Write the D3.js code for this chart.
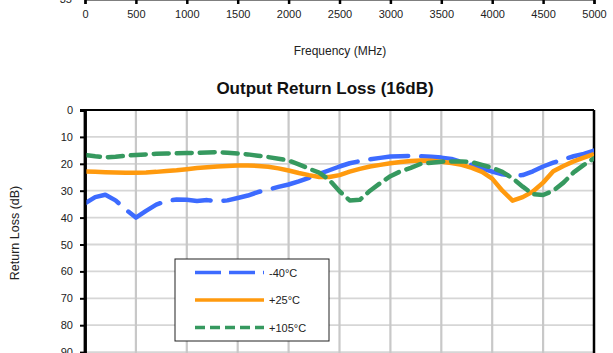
<!DOCTYPE html>
<html>
<head>
<meta charset="utf-8">
<script src="https://cdn.jsdelivr.net/npm/d3@7/dist/d3.min.js"></script>
<style>
  html, body { margin: 0; padding: 0; background: #fff; }
  svg { display: block; font-family: "Liberation Sans", Arial, sans-serif; }
</style>
</head>
<body>
<svg id="chart" width="613" height="353"></svg>
<script>
// Frequency points (MHz)
const freq = [0,100,200,300,400,500,600,700,800,900,1000,1100,1200,1300,1400,1500,1600,1700,1800,1900,
  2000,2100,2200,2300,2400,2500,2600,2700,2800,2900,3000,3100,3200,3300,3400,3500,3600,3700,3800,3900,
  4000,4100,4200,4300,4400,4500,4600,4700,4800,4900,5000];

// Output return loss (dB) per temperature
const rlMinus40 = [34.7,32.4,31.5,33.6,37.0,40.0,37.5,35.2,33.8,33.3,33.4,33.8,33.5,34.0,33.6,32.7,31.8,30.5,29.6,28.6,
  27.7,26.5,25.2,23.8,22.4,21.0,19.8,19.0,18.3,17.8,17.3,17.2,17.1,17.2,17.4,17.7,18.2,19.3,20.4,21.7,
  22.9,23.9,24.5,24.2,22.8,21.0,19.6,18.3,17.2,16.3,15.1];
const rlPlus25 = [22.9,23.0,23.1,23.2,23.3,23.3,23.2,23.0,22.7,22.4,22.0,21.6,21.3,21.0,20.8,20.6,20.6,20.8,21.1,21.7,
  22.5,23.4,24.2,24.9,24.9,24.2,22.9,21.9,21.0,20.4,19.8,19.3,19.0,18.8,18.9,19.2,19.7,20.4,21.5,23.0,
  25.5,30.0,33.7,32.4,30.3,27.0,22.8,20.8,19.1,17.7,16.4];
const rlPlus105 = [16.7,17.2,17.6,17.4,17.0,16.7,16.5,16.3,16.2,16.1,16.0,15.9,15.8,15.7,15.9,16.2,16.5,17.0,17.5,18.1,
  18.8,20.2,21.8,23.3,26.0,30.2,33.6,33.4,30.0,27.2,24.6,22.8,21.5,20.0,19.6,19.2,19.1,19.1,19.4,20.4,
  21.5,23.0,25.4,28.5,31.3,31.6,30.0,27.0,23.2,20.4,18.0];

const seriesNames = ["-40°C", "+25°C", "+105°C"];
const xTicks = [0,500,1000,1500,2000,2500,3000,3500,4000,4500,5000];
const yTicks = [0,10,20,30,40,50,60,70,80,90,100];

const styles = [
  { color: "#3d6bff", width: 4.5, dash: "38,13", legendWidth: 3.3, legendDash: "26,8" },
  { color: "#ff9a0e", width: 4.5, dash: null,    legendWidth: 3.3, legendDash: null },
  { color: "#36995f", width: 4.5, dash: "15,8",  legendWidth: 3.3, legendDash: "10,5" }
];
const seriesData = [rlMinus40, rlPlus25, rlPlus105];

const svg = d3.select("#chart");

const plotLeft = 85, plotRight = 594, plotTop = 110, plotBottom = 379;
const x = d3.scaleLinear().domain([0, 5000]).range([plotLeft, plotRight]);
const y = d3.scaleLinear().domain([0, 100]).range([plotTop, plotBottom]);

// --- tail of the chart above: its frequency axis ---
const upper = svg.append("g");
upper.append("g")
  .attr("transform", "translate(0,-1)")
  .call(d3.axisBottom(x).tickValues(xTicks).tickSize(5).tickPadding(6).tickFormat(d3.format("d")))
  .call(g => {
    g.select(".domain").attr("stroke", "#000").attr("stroke-width", 2);
    g.selectAll(".tick line").attr("stroke", "#000").attr("stroke-width", 2.5);
    g.selectAll(".tick text").attr("font-size", 11).attr("fill", "#222")
      .attr("font-family", "Liberation Sans, Arial, sans-serif");
  });
upper.append("text").attr("x", 72).attr("y", 3).attr("text-anchor", "end")
  .attr("font-size", 11).attr("fill", "#222").text("35");
upper.append("text").attr("x", 340).attr("y", 55).attr("text-anchor", "middle")
  .attr("font-size", 12).attr("fill", "#222").text("Frequency (MHz)");

// --- title ---
svg.append("text").attr("x", 325).attr("y", 94).attr("text-anchor", "middle")
  .attr("font-size", 17).attr("font-weight", "bold").attr("fill", "#111")
  .text("Output Return Loss (16dB)");

// --- grid ---
const grid = svg.append("g");
grid.selectAll("line.h").data(yTicks.filter(d => d > 0)).join("line")
  .attr("x1", plotLeft).attr("x2", plotRight)
  .attr("y1", d => y(d)).attr("y2", d => y(d))
  .attr("stroke", "#d6d6d6").attr("stroke-width", 1.8);
grid.selectAll("line.v").data(xTicks.filter(d => d > 0 && d < 5000)).join("line")
  .attr("x1", d => x(d)).attr("x2", d => x(d))
  .attr("y1", plotTop).attr("y2", plotBottom)
  .attr("stroke", "#c8c8c8").attr("stroke-width", 2.2);

// --- frame ---
svg.append("line").attr("x1", plotLeft).attr("x2", plotRight).attr("y1", plotTop).attr("y2", plotTop)
  .attr("stroke", "#000").attr("stroke-width", 2);
svg.append("line").attr("x1", plotRight).attr("x2", plotRight).attr("y1", plotTop).attr("y2", plotBottom)
  .attr("stroke", "#000").attr("stroke-width", 2.5);

// --- y axis ---
svg.append("g")
  .attr("transform", `translate(${plotLeft},0)`)
  .call(d3.axisLeft(y).tickValues(yTicks).tickSize(5).tickPadding(7))
  .call(g => {
    g.select(".domain").attr("stroke", "#000").attr("stroke-width", 2.8);
    g.selectAll(".tick line").attr("stroke", "#000").attr("stroke-width", 2);
    g.selectAll(".tick text").attr("font-size", 11).attr("fill", "#222")
      .attr("font-family", "Liberation Sans, Arial, sans-serif");
  });

svg.append("text")
  .attr("transform", "translate(19,233) rotate(-90)")
  .attr("text-anchor", "middle").attr("font-size", 12.5).attr("fill", "#222")
  .text("Return Loss (dB)");

// --- curves ---
svg.append("clipPath").attr("id", "plot-clip")
  .append("rect").attr("x", plotLeft).attr("y", plotTop)
  .attr("width", plotRight - plotLeft).attr("height", plotBottom - plotTop);

const line = d3.line().x((d, i) => x(freq[i])).y(d => y(d));
const curves = svg.append("g").attr("clip-path", "url(#plot-clip)");
[0, 1, 2].forEach(k => {
  const s = styles[k];
  curves.append("path")
    .datum(seriesData[k])
    .attr("d", line)
    .attr("fill", "none")
    .attr("stroke", s.color)
    .attr("stroke-width", s.width)
    .attr("stroke-linejoin", "round")
    .attr("stroke-linecap", s.dash ? "round" : "butt")
    .attr("stroke-dasharray", s.dash);
});
// redraw left axis line over the curves
svg.append("line").attr("x1", plotLeft).attr("x2", plotLeft).attr("y1", plotTop - 1).attr("y2", plotBottom)
  .attr("stroke", "#000").attr("stroke-width", 2.8);

// --- legend ---
const lg = svg.append("g").attr("transform", "translate(175,259)");
lg.append("rect").attr("x", 0).attr("y", 0).attr("width", 154).attr("height", 82)
  .attr("fill", "#fff").attr("stroke", "#222").attr("stroke-width", 1);
seriesNames.forEach((name, k) => {
  const s = styles[k];
  const ry = 13.5 + k * 27.5;
  lg.append("line").attr("x1", 20).attr("x2", 89).attr("y1", ry).attr("y2", ry)
    .attr("stroke", s.color).attr("stroke-width", s.legendWidth)
    .attr("stroke-dasharray", s.legendDash);
  lg.append("text").attr("x", 94).attr("y", ry + 4).attr("font-size", 11).attr("fill", "#222")
    .text(name);
});
</script>
</body>
</html>
